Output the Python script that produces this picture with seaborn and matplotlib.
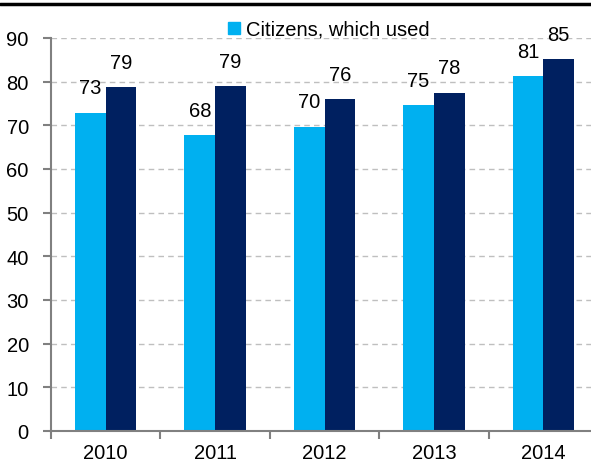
import matplotlib
matplotlib.use("Agg")
import matplotlib.pyplot as plt
import matplotlib.lines as mlines
from matplotlib import font_manager
import seaborn as sns
import pandas as pd

years = ["2010", "2011", "2012", "2013", "2014"]
series_names = ["Citizens, which used", "Citizens, total"]
used = [72.9, 67.8, 69.7, 74.6, 81.3]
total = [78.7, 79.0, 76.0, 77.5, 85.2]
used_labels = ["73", "68", "70", "75", "81"]
total_labels = ["79", "79", "76", "78", "85"]
yticks = [0, 10, 20, 30, 40, 50, 60, 70, 80, 90]

light = "#00B0F0"
dark = "#002060"

sns.set_theme(style="white")
names = {f.name for f in font_manager.fontManager.ttflist}
fam = ["Liberation Sans Narrow", "Liberation Sans", "DejaVu Sans"]
fam = [f for f in fam if f in names] + ["DejaVu Sans"]
plt.rcParams["font.family"] = fam
plt.rcParams["text.color"] = "black"
plt.rcParams["xtick.labelcolor"] = "black"
plt.rcParams["ytick.labelcolor"] = "black"

df = pd.DataFrame({
    "year": years * 2,
    "series": [series_names[0]] * len(years) + [series_names[1]] * len(years),
    "value": used + total,
})

fig = plt.figure(figsize=(5.91, 4.64), dpi=100)
ax = fig.add_axes([51 / 591, 32 / 464, 547 / 591, 393 / 464])

sns.barplot(data=df, x="year", y="value", hue="series", palette=[light, dark],
            width=0.56, saturation=1, ax=ax, legend=False, errorbar=None,
            linewidth=0)

ax.set_ylim(0, 90)
ax.set_xlim(-0.5, len(years) - 0.5)
ax.set_yticks(yticks)
ax.set_yticklabels([str(t) for t in yticks], fontsize=14.5, color="black")
ax.yaxis.grid(True, linestyle=(0, (4, 3)), color="#BFBFBF", linewidth=1)
ax.set_axisbelow(True)

ax.set_xticks([i - 0.5 for i in range(len(years) + 1)])
ax.set_xticklabels([""] * (len(years) + 1))
ax.set_xticks(range(len(years)), minor=True)
ax.set_xticklabels(years, minor=True, fontsize=14.5, color="black")
ax.tick_params(axis="x", which="major", length=6, width=1.5, color="#808080", direction="out", bottom=True)
ax.tick_params(axis="x", which="minor", length=0, pad=9)
ax.tick_params(axis="y", length=6, width=1.5, color="#808080", direction="out", left=True, pad=10)
ax.set_xlabel("")
ax.set_ylabel("")

for s in ["top", "right"]:
    ax.spines[s].set_visible(False)
for s in ["left", "bottom"]:
    ax.spines[s].set_color("#808080")
    ax.spines[s].set_linewidth(1.5)

ax.bar_label(ax.containers[0], labels=used_labels, padding=11, fontsize=14.5, color="black")
ax.bar_label(ax.containers[1], labels=total_labels, padding=11, fontsize=14.5, color="black")

handle = mlines.Line2D([], [], marker="s", linestyle="", color=light, markersize=9)
fig.legend([handle], [series_names[0]], loc="center", bbox_to_anchor=(0.555, 0.935),
           frameon=False, fontsize=14.5, handletextpad=0.2, handlelength=0.8, borderpad=0,
           labelcolor="black")

fig.add_artist(mlines.Line2D([0, 1], [1 - 5 / 464, 1 - 5 / 464], color="black", linewidth=2.5,
                             transform=fig.transFigure))

fig.savefig("out.png", dpi=100)
